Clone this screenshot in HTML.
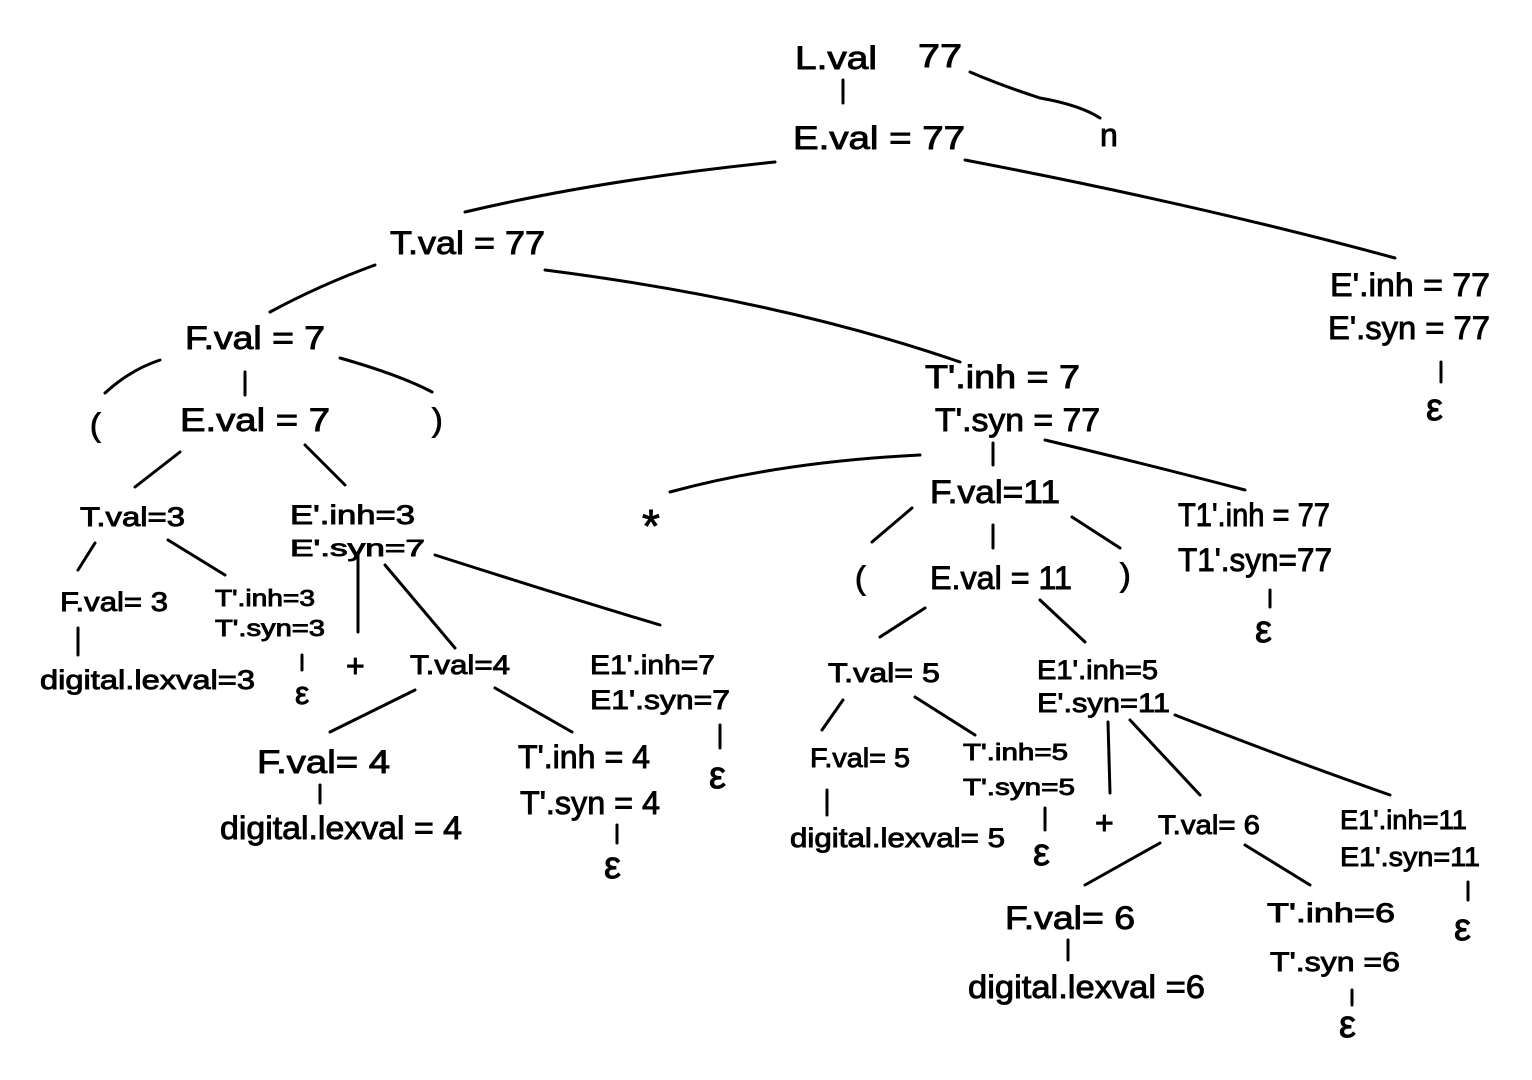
<!DOCTYPE html>
<html><head><meta charset="utf-8"><style>
html,body{margin:0;padding:0;background:#fff;}
svg{display:block}
text{font-family:"Liberation Sans",sans-serif;fill:#000;dominant-baseline:central;stroke:#000;stroke-width:0.9}
.b{font-size:32px}
.m{font-size:27px}
.s{font-size:23px}
.e{font-size:38px}
</style></head><body>
<svg width="1532" height="1080" viewBox="0 0 1532 1080" xmlns="http://www.w3.org/2000/svg">
<g stroke="#000" stroke-width="3" fill="none" stroke-linecap="round">
<path d="M843 80 L843 103"/>
<path d="M970 72 Q1000 85 1040 98 Q1080 105 1100 118"/>
<path d="M465 212 Q600 180 775 162"/>
<path d="M965 160 Q1200 205 1395 258"/>
<path d="M270 312 Q320 285 375 265"/>
<path d="M545 270 Q780 300 960 362"/>
<path d="M105 393 Q130 370 160 360"/>
<path d="M245 372 L245 395"/>
<path d="M340 358 Q400 375 432 392"/>
<path d="M135 487 L180 452"/>
<path d="M305 445 L345 485"/>
<path d="M78 570 L95 543"/>
<path d="M168 540 L225 575"/>
<path d="M78 628 L78 655"/>
<path d="M302 655 L302 670"/>
<path d="M358 555 L358 632"/>
<path d="M385 565 L455 648"/>
<path d="M435 555 Q560 595 660 625"/>
<path d="M720 725 L720 748"/>
<path d="M330 732 L415 690"/>
<path d="M495 688 L572 732"/>
<path d="M320 785 L320 803"/>
<path d="M617 825 L617 843"/>
<path d="M993 443 L993 465"/>
<path d="M670 492 Q780 462 920 455"/>
<path d="M1045 440 Q1150 465 1245 490"/>
<path d="M1270 590 L1270 607"/>
<path d="M1441 362 L1441 382"/>
<path d="M872 542 L912 508"/>
<path d="M993 525 L993 548"/>
<path d="M1072 517 L1120 548"/>
<path d="M880 637 L925 608"/>
<path d="M1040 600 L1085 642"/>
<path d="M822 730 L843 700"/>
<path d="M915 697 L975 735"/>
<path d="M827 790 L827 815"/>
<path d="M1045 808 L1045 830"/>
<path d="M1108 722 L1110 793"/>
<path d="M1130 720 L1200 795"/>
<path d="M1175 715 Q1290 760 1390 795"/>
<path d="M1468 882 L1468 900"/>
<path d="M1085 885 L1160 843"/>
<path d="M1245 845 L1310 885"/>
<path d="M1068 940 L1068 960"/>
<path d="M1352 990 L1352 1005"/>
</g>
<text class="b" x="795" y="58" textLength="82" lengthAdjust="spacingAndGlyphs">L.val</text>
<text class="b" x="918" y="56" textLength="44" lengthAdjust="spacingAndGlyphs">77</text>
<text class="b" x="793" y="138" textLength="172" lengthAdjust="spacingAndGlyphs">E.val = 77</text>
<text class="b" x="1100" y="135">n</text>
<text class="b" x="390" y="243" textLength="155" lengthAdjust="spacingAndGlyphs">T.val = 77</text>
<text class="b" x="1330" y="285" textLength="160" lengthAdjust="spacingAndGlyphs">E'.inh = 77</text>
<text class="b" x="1328" y="328" textLength="162" lengthAdjust="spacingAndGlyphs">E'.syn = 77</text>
<text class="e" x="1426" y="408">ε</text>
<text class="b" x="185" y="338" textLength="140" lengthAdjust="spacingAndGlyphs">F.val = 7</text>
<text class="b" x="925" y="377" textLength="155" lengthAdjust="spacingAndGlyphs">T'.inh = 7</text>
<text class="b" x="935" y="420" textLength="165" lengthAdjust="spacingAndGlyphs">T'.syn = 77</text>
<text class="b" x="90" y="425">(</text>
<text class="b" x="180" y="420" textLength="150" lengthAdjust="spacingAndGlyphs">E.val = 7</text>
<text class="b" x="432" y="420">)</text>
<text class="m" x="80" y="517" textLength="105" lengthAdjust="spacingAndGlyphs">T.val=3</text>
<text class="m" x="290" y="515" textLength="125" lengthAdjust="spacingAndGlyphs">E'.inh=3</text>
<text class="s" x="290" y="548" textLength="135" lengthAdjust="spacingAndGlyphs">E'.syn=7</text>
<text class="m" x="60" y="602" textLength="108" lengthAdjust="spacingAndGlyphs">F.val= 3</text>
<text class="s" x="215" y="598" textLength="100" lengthAdjust="spacingAndGlyphs">T'.inh=3</text>
<text class="s" x="215" y="628" textLength="110" lengthAdjust="spacingAndGlyphs">T'.syn=3</text>
<text class="m" x="40" y="680" textLength="215" lengthAdjust="spacingAndGlyphs">digital.lexval=3</text>
<text class="b" x="295" y="693">ε</text>
<text class="b" x="346" y="666">+</text>
<text class="m" x="410" y="665" textLength="100" lengthAdjust="spacingAndGlyphs">T.val=4</text>
<text class="m" x="590" y="665" textLength="125" lengthAdjust="spacingAndGlyphs">E1'.inh=7</text>
<text class="m" x="590" y="700" textLength="140" lengthAdjust="spacingAndGlyphs">E1'.syn=7</text>
<text class="e" x="709" y="776">ε</text>
<text class="b" x="257" y="762" textLength="133" lengthAdjust="spacingAndGlyphs">F.val= 4</text>
<text class="b" x="518" y="757" textLength="132" lengthAdjust="spacingAndGlyphs">T'.inh = 4</text>
<text class="b" x="520" y="803" textLength="140" lengthAdjust="spacingAndGlyphs">T'.syn = 4</text>
<text class="b" x="220" y="828" textLength="242" lengthAdjust="spacingAndGlyphs">digital.lexval = 4</text>
<text class="e" x="604" y="866">ε</text>
<text x="642" y="526" style="font-size:46px">*</text>
<text class="b" x="930" y="492" textLength="130" lengthAdjust="spacingAndGlyphs">F.val=11</text>
<text class="b" x="1178" y="515" textLength="152" lengthAdjust="spacingAndGlyphs">T1'.inh = 77</text>
<text class="b" x="1178" y="560" textLength="154" lengthAdjust="spacingAndGlyphs">T1'.syn=77</text>
<text class="e" x="1255" y="630">ε</text>
<text class="b" x="855" y="578">(</text>
<text class="b" x="930" y="578" textLength="142" lengthAdjust="spacingAndGlyphs">E.val = 11</text>
<text class="b" x="1120" y="575">)</text>
<text class="m" x="828" y="673" textLength="112" lengthAdjust="spacingAndGlyphs">T.val= 5</text>
<text class="m" x="1037" y="670" textLength="121" lengthAdjust="spacingAndGlyphs">E1'.inh=5</text>
<text class="m" x="1037" y="703" textLength="133" lengthAdjust="spacingAndGlyphs">E'.syn=11</text>
<text class="m" x="810" y="758" textLength="100" lengthAdjust="spacingAndGlyphs">F.val= 5</text>
<text class="s" x="963" y="752" textLength="105" lengthAdjust="spacingAndGlyphs">T'.inh=5</text>
<text class="s" x="963" y="787" textLength="112" lengthAdjust="spacingAndGlyphs">T'.syn=5</text>
<text class="m" x="790" y="838" textLength="215" lengthAdjust="spacingAndGlyphs">digital.lexval= 5</text>
<text class="e" x="1033" y="853">ε</text>
<text class="b" x="1095" y="823">+</text>
<text class="m" x="1158" y="825" textLength="102" lengthAdjust="spacingAndGlyphs">T.val= 6</text>
<text class="m" x="1340" y="820" textLength="127" lengthAdjust="spacingAndGlyphs">E1'.inh=11</text>
<text class="m" x="1340" y="857" textLength="140" lengthAdjust="spacingAndGlyphs">E1'.syn=11</text>
<text class="e" x="1454" y="928">ε</text>
<text class="b" x="1005" y="918" textLength="130" lengthAdjust="spacingAndGlyphs">F.val= 6</text>
<text class="m" x="1267" y="913" textLength="128" lengthAdjust="spacingAndGlyphs">T'.inh=6</text>
<text class="m" x="1270" y="962" textLength="130" lengthAdjust="spacingAndGlyphs">T'.syn =6</text>
<text class="b" x="968" y="987" textLength="237" lengthAdjust="spacingAndGlyphs">digital.lexval =6</text>
<text class="e" x="1339" y="1025">ε</text>
</svg>
</body></html>
